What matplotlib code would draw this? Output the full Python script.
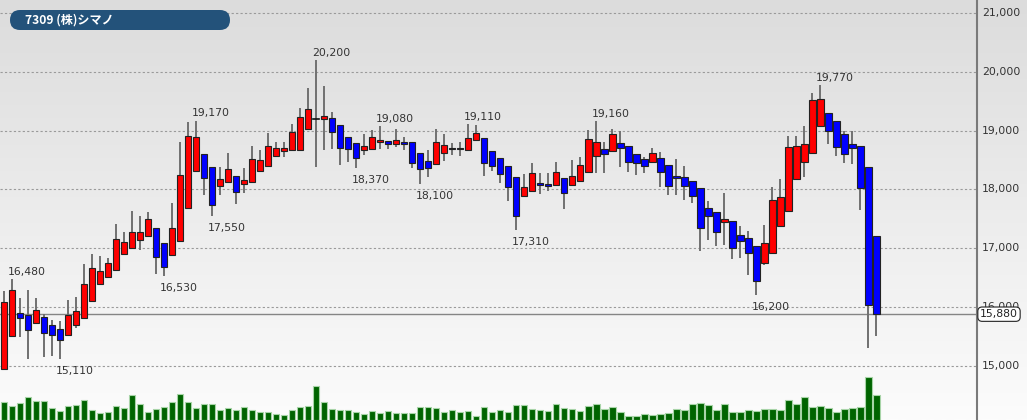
import matplotlib
matplotlib.use('Agg')
import matplotlib.pyplot as plt
import matplotlib.patches as patches
import matplotlib.transforms as mtransforms
from matplotlib.lines import Line2D
from matplotlib.colors import LinearSegmentedColormap
import numpy as np

# --- datos (OHLC diario y volumen) ---
title = "7309 (株)シマノ"
opens = [14950, 15510, 15900, 15865, 15730, 15840, 15700, 15625, 15525, 15695,
         15815, 16100, 16395, 16510, 16630, 16900, 17000, 17140, 17205, 17350,
         17095, 16885, 17125, 17685, 18315, 18600, 18385, 18065, 18120, 18230,
         18095, 18120, 18315, 18400, 18575, 18650, 18665, 18670, 19030, 19200,
         19195, 19220, 19095, 18895, 18785, 18665, 18685, 18800, 18825, 18780,
         18810, 18800, 18620, 18490, 18435, 18615, 18690, 18690, 18670, 18840,
         18870, 18660, 18530, 18400, 18215, 17885, 17970, 18100, 18090, 18075,
         18190, 18075, 18145, 18290, 18570, 18690, 18650, 18790, 18745, 18605,
         18510, 18460, 18540, 18415, 18235, 18215, 18145, 18020, 17680, 17610,
         17450, 17470, 17225, 17180, 17045, 16750, 16915, 17380, 17635, 18175,
         18460, 18615, 19080, 19305, 19160, 18940, 18780, 18740, 18380, 17210]
highs = [16270, 16480, 16155, 16290, 16155, 15880, 15775, 15770, 16120, 16170,
         16735, 16905, 16870, 16835, 17410, 17270, 17640, 17550, 17615, 17350,
         17095, 17765, 18800, 19150, 19170, 18600, 18385, 18380, 18615, 18230,
         18370, 18740, 18670, 18955, 18810, 18810, 19115, 19380, 19720, 20200,
         19760, 19310, 19095, 18895, 18785, 18940, 19010, 19080, 18825, 19025,
         18895, 18800, 18620, 18670, 19025, 18945, 18790, 18810, 19110, 19100,
         18870, 18660, 18530, 18400, 18215, 18265, 18455, 18275, 18275, 18470,
         18190, 18500, 18555, 19010, 19160, 18810, 19025, 19000, 18745, 18605,
         18555, 18700, 18630, 18415, 18515, 18400, 18145, 18020, 17810, 17610,
         17935, 17470, 17385, 17300, 17045, 17395, 18035, 18175, 18910, 18910,
         19080, 19635, 19770, 19305, 19160, 19000, 19000, 18740, 18380, 17210]
lows = [14950, 15510, 15490, 15120, 15730, 15160, 15175, 15110, 15525, 15650,
        15815, 16100, 16380, 16510, 16630, 16900, 17000, 16970, 17205, 16565,
        16530, 16885, 17125, 17685, 18315, 17905, 17550, 17900, 18120, 17750,
        17935, 18120, 18315, 18400, 18555, 18555, 18665, 18670, 19030, 18390,
        18670, 18680, 18415, 18475, 18370, 18585, 18685, 18680, 18690, 18715,
        18670, 18360, 18100, 18215, 18435, 18490, 18590, 18570, 18670, 18840,
        18230, 18315, 18105, 17810, 17310, 17885, 17970, 17930, 17970, 18075,
        17665, 18075, 18145, 18290, 18275, 18275, 18650, 18385, 18300, 18245,
        18285, 18460, 18035, 17905, 17905, 17820, 17775, 16960, 17140, 17045,
        17055, 16820, 16840, 16545, 16200, 16715, 16915, 17380, 17635, 18175,
        18205, 18615, 19080, 18775, 18575, 18455, 18435, 17650, 15300, 15510]
closes = [16090, 16290, 15815, 15610, 15950, 15565, 15530, 15440, 15865, 15930,
          16395, 16660, 16620, 16745, 17155, 17105, 17275, 17275, 17495, 16845,
          16675, 17345, 18245, 18915, 18885, 18190, 17735, 18175, 18345, 17965,
          18155, 18520, 18500, 18745, 18710, 18700, 18975, 19225, 19370, 19200,
          19250, 18975, 18700, 18680, 18530, 18735, 18900, 18840, 18770, 18840,
          18770, 18445, 18355, 18370, 18805, 18750, 18680, 18680, 18870, 18955,
          18455, 18400, 18265, 18035, 17550, 18035, 18275, 18080, 18065, 18300,
          17945, 18230, 18415, 18860, 18810, 18600, 18940, 18705, 18460, 18445,
          18400, 18615, 18290, 18060, 18190, 18060, 17895, 17340, 17550, 17280,
          17490, 17000, 17125, 16915, 16445, 17085, 17820, 17865, 18725, 18745,
          18770, 19515, 19535, 19000, 18725, 18605, 18700, 18030, 16030, 15880]
volumes = [183, 140, 167, 230, 187, 187, 117, 93, 140, 150,
           200, 100, 67, 83, 140, 117, 250, 157, 77, 113,
           133, 177, 260, 180, 123, 160, 160, 100, 120, 97,
           127, 97, 77, 77, 57, 50, 97, 127, 140, 343,
           183, 110, 100, 100, 80, 63, 90, 73, 87, 73,
           67, 67, 127, 133, 123, 83, 100, 83, 90, 43,
           127, 77, 100, 85, 148, 153, 110, 97, 90, 163,
           117, 110, 90, 140, 160, 110, 127, 77, 40, 40,
           63, 50, 63, 67, 107, 97, 157, 170, 150, 97,
           157, 77, 83, 97, 90, 113, 107, 100, 203, 160,
           227, 133, 143, 117, 83, 110, 117, 130, 427, 250]
high_marks = [1, 24, 39, 47, 58, 74, 102]   # máximos marcados
low_marks = [7, 20, 26, 44, 52, 64, 94]     # mínimos marcados
price_ticks = [15000, 16000, 17000, 18000, 19000, 20000, 21000]
last_price = closes[-1]

W, H = 1027, 420
fig = plt.figure(figsize=(W / 100, H / 100), dpi=100)

# --- fondo degradado ---
bg = fig.add_axes([0, 0, 1, 1], zorder=-10)
cmap = LinearSegmentedColormap.from_list('bg', ['#dcdcdc', '#fcfcfc'])
bg.imshow(np.linspace(0, 1, 256).reshape(-1, 1), aspect='auto', cmap=cmap,
          extent=[0, 1, 0, 1])
bg.axis('off')

plot_right = 976.5 / W
ax = fig.add_axes([0, 0, plot_right, 1])
ax.set_facecolor('none')
ax.set_xlim(-0.5, 121.5)
ax.set_ylim(14081, 21221)
ax.axis('off')

# volumen en eje aparte (misma zona)
axv = fig.add_axes([0, 0, plot_right, 1], sharex=ax)
axv.set_facecolor('none')
axv.set_ylim(0, 4200)
axv.axis('off')
x = np.arange(len(closes))
axv.bar(x, volumes, width=0.8, color='#006400', edgecolor='#a8d4a8', linewidth=0.8, zorder=2)

# rejilla punteada
for p in price_ticks:
    ax.axhline(p, color='#9a9a9a', lw=0.8, ls=(0, (2, 2)), zorder=1)

# precio actual
ax.axhline(last_price, color='#858585', lw=1.0, zorder=1.5)

# --- velas ---
for i in range(len(closes)):
    o, h, l, c = opens[i], highs[i], lows[i], closes[i]
    ax.plot([i, i], [l, h], color='#707070', lw=1.4, zorder=3, solid_capstyle='butt')
    if o == c:
        ax.plot([i - 0.4, i + 0.4], [o, o], color='#111111', lw=1.2, zorder=4)
        continue
    col = '#ff0000' if c > o else '#0000ff'
    bot = min(o, c)
    ht = max(abs(c - o), 25)
    ax.add_patch(patches.Rectangle((i - 0.4, bot), 0.8, ht, facecolor=col,
                                   edgecolor='#222222', lw=0.8, zorder=4))

# etiquetas de máximos / mínimos
for i in high_marks:
    ax.annotate(f'{highs[i]:,}', (i, highs[i]), xytext=(-3, 3), textcoords='offset points',
                ha='left', va='baseline', fontsize=7.8, color='#333333', zorder=5)
for i in low_marks:
    ax.annotate(f'{lows[i]:,}', (i, lows[i]), xytext=(-3, -5), textcoords='offset points',
                ha='left', va='top', fontsize=7.8, color='#333333', zorder=5)

# eje de precios a la derecha
fig.add_artist(Line2D([plot_right, plot_right], [0, 1], transform=fig.transFigure,
                      color='#7a7a7a', lw=1.5))
tr = mtransforms.blended_transform_factory(fig.transFigure, ax.transData)
for p in price_ticks:
    fig.text(982 / W, p, f'{p:,}', transform=tr, ha='left', va='center',
             fontsize=7.8, color='#333333')
fig.text(980 / W, last_price, f'{last_price:,}', transform=tr, ha='left', va='center',
         fontsize=7.8, color='#222222', zorder=10,
         bbox=dict(boxstyle='round,pad=0.2,rounding_size=0.4', fc='white', ec='#222222', lw=0.8))

# insignia del título
badge = patches.FancyBboxPatch((10, H - 30), 220, 20, boxstyle='round,pad=0,rounding_size=10',
                               transform=mtransforms.IdentityTransform(),
                               fc='#23527a', ec='none', zorder=10)
fig.add_artist(badge)
fig.text(25 / W, (H - 20) / H, title, ha='left', va='center', color='white', fontsize=8.7,
         family=['Noto Sans CJK JP', 'DejaVu Sans'], weight='bold', zorder=11)

fig.savefig('out.png', dpi=100)
